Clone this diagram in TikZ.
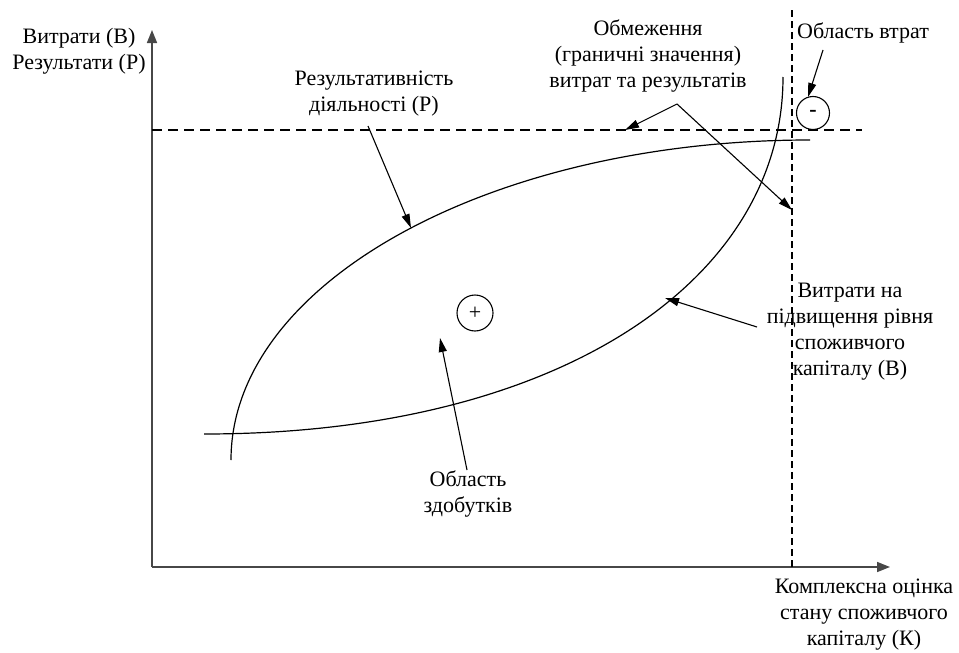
\documentclass[tikz,border=0pt]{standalone}
\usepackage{fontspec}
\setmainfont{Liberation Serif}
\usetikzlibrary{arrows.meta}
\begin{document}
\begin{tikzpicture}[x=1pt,y=-1pt,
  axisline/.style={line width=1.6pt,draw=black!72,-{Triangle[length=13pt,width=10pt]}},
  curveline/.style={line width=1.2pt},
  hlimline/.style={line width=1.1pt,dash pattern=on 10pt off 6pt},
  vlimline/.style={line width=1.1pt,dash pattern=on 7pt off 4pt},
  ptr/.style={line width=1.1pt,-{Triangle[length=14pt,width=8pt]}},
  lbl/.style={align=center,inner sep=0pt,font=\fontsize{22}{26}\selectfont},
  sign/.style={circle,draw,line width=1.1pt,inner sep=0pt,font=\fontsize{22}{24}\selectfont}]
\useasboundingbox (0,0) rectangle (959,653);
% axes
\coordinate (O) at (152,567);
\coordinate (ytop) at (152,30);
\coordinate (xend) at (890,567);
\draw[axisline] (O) -- (ytop);
\draw[axisline] (O) -- (xend);
% limits
\coordinate (hl1) at (152,130);
\coordinate (hl2) at (862,130);
\coordinate (vl1) at (792,10);
\coordinate (vl2) at (792,567);
\draw[hlimline] (hl1) -- (hl2);
\draw[vlimline] (vl1) -- (vl2);
% curves
\coordinate (c1a) at (231,460);
\coordinate (c1b) at (810,140);
\draw[curveline] (c1a) .. controls (231,283) and (490,140) .. (c1b);
\coordinate (c2a) at (204,434);
\coordinate (c2b) at (783,77);
\draw[curveline] (c2a) .. controls (560,434) and (783,280) .. (c2b);
% labels
\node[lbl] (ylab) at (79,51) {Витрати (В)\\Результати (Р)};
\node[lbl] (reslab) at (374,94) {Результативність\\діяльності (Р)};
\node[lbl] (obmlab) at (648,56) {Обмеження\\(граничні значення)\\витрат та результатів};
\node[lbl] (losslab) at (863,33) {Область втрат};
\node[lbl] (costlab) at (850,332) {Витрати на\\підвищення рівня\\споживчого\\капіталу (В)};
\node[lbl] (gainlab) at (468,494) {Область\\здобутків};
\node[lbl] (xlab) at (864,615) {Комплексна оцінка\\стану споживчого\\капіталу (К)};
\node[sign,minimum size=36pt] (plus) at (475,313) {+};
\node[sign,minimum size=33pt,font=\fontsize{22}{24}\selectfont\bfseries] (minus) at (813,113) {-};
% pointers
\coordinate (p1s) at (368,126); \coordinate (p1e) at (411,228);
\coordinate (p2s) at (677,104); \coordinate (p2e) at (625,130);
\coordinate (p3e) at (792,210);
\coordinate (p4s) at (823,50); \coordinate (p4e) at (808,97);
\coordinate (p5s) at (757,327); \coordinate (p5e) at (665,298);
\coordinate (p6s) at (467,470); \coordinate (p6e) at (440,338);
\draw[ptr] (p1s) -- (p1e);
\draw[ptr] (p2s) -- (p2e);
\draw[ptr] (p2s) -- (p3e);
\draw[ptr] (p4s) -- (p4e);
\draw[ptr] (p5s) -- (p5e);
\draw[ptr] (p6s) -- (p6e);
\end{tikzpicture}
\end{document}
